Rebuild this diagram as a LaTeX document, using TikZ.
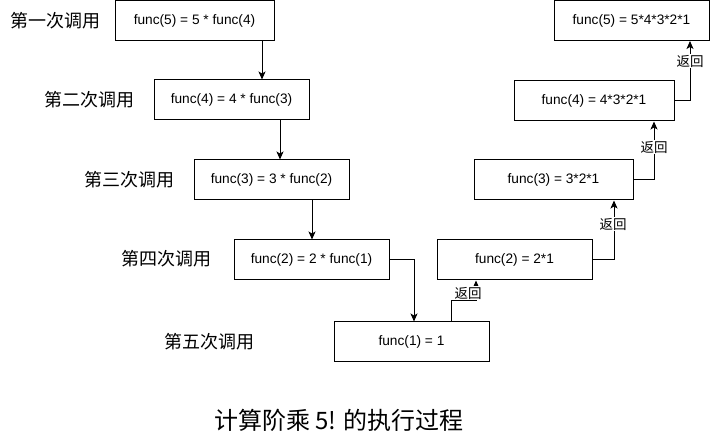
\documentclass[tikz,border=0pt]{standalone}
\usepackage{fontspec}
\setmainfont{Liberation Sans}
\newfontfamily\cjk{Noto Sans CJK SC}
\usetikzlibrary{arrows.meta}
\begin{document}
\begin{tikzpicture}[x=1pt,y=-1pt,
  box/.style={draw=black,line width=1pt,rectangle,minimum height=40pt,inner sep=0pt,
    font=\fontsize{13.7}{16}\selectfont},
  rowlabel/.style={inner sep=0pt,font=\cjk\fontsize{18}{22}\selectfont},
  ret/.style={fill=white,inner sep=0.6pt,font=\cjk\fontsize{13.5}{16}\selectfont},
  arr/.style={line width=1pt,-{Stealth[length=8pt,width=7pt,inset=2pt]}}]
\useasboundingbox (0,0) rectangle (710,435);
% call boxes
\node[box,minimum width=159pt] (A1) at (194.5,20.5) {func(5) = 5 * func(4)};
\node[box,minimum width=155pt] (A2) at (231.5,100) {func(4) = 4 * func(3)};
\node[box,minimum width=155pt] (A3) at (271.5,180) {func(3) = 3 * func(2)};
\node[box,minimum width=155pt] (A4) at (311.5,260) {func(2) = 2 * func(1)};
\node[box,minimum width=155pt] (A5) at (411.5,342) {func(1) = 1};
% return boxes
\node[box,minimum width=155pt] (B2) at (514.5,260) {func(2) = 2*1};
\node[box,minimum width=159pt] (B3) at (553.5,180) {func(3) = 3*2*1};
\node[box,minimum width=160pt] (B4) at (594,101) {func(4) = 4*3*2*1};
\node[box,minimum width=155pt] (B5) at (631.5,20.5) {func(5) = 5*4*3*2*1};
% row labels
\node[rowlabel] (R1) at (55,21) {第一次调用};
\node[rowlabel] (R2) at (89,100) {第二次调用};
\node[rowlabel] (R3) at (129,180) {第三次调用};
\node[rowlabel] (R4) at (166,259) {第四次调用};
\node[rowlabel] (R5) at (209,342) {第五次调用};
% title
\node[inner sep=0pt,font=\cjk\fontsize{24}{28}\selectfont] (T) at (339,420) {计算阶乘 5! 的执行过程};
% helper coordinates
\coordinate (c1) at (262,0);
\coordinate (c2) at (280,0);
\coordinate (c3) at (312,0);
\coordinate (c4) at (414,0);
\coordinate (r1a) at (451,301);
\coordinate (r1b) at (476,301);
\coordinate (r2) at (614,0);
\coordinate (r3) at (654,0);
\coordinate (r4) at (690,0);
% call arrows
\draw[arr] (A1.south -| c1) -- (A2.north -| c1);
\draw[arr] (A2.south -| c2) -- (A3.north -| c2);
\draw[arr] (A3.south -| c3) -- (A4.north -| c3);
\draw[arr] (A4.east) -| (A5.north -| c4);
% return arrows
\draw[arr] (A5.north -| r1a) -- (r1a) -- (r1b) -- (B2.south -| r1b);
\draw[arr] (B2.east) -| (B3.south -| r2);
\draw[arr] (B3.east) -| (B4.south -| r3);
\draw[arr] (B4.east) -| (B5.south -| r4);
% return labels
\node[ret] (L1) at (468,293) {返回};
\node[ret] (L2) at (613,224) {返回};
\node[ret] (L3) at (654,147) {返回};
\node[ret] (L4) at (690,61) {返回};
\end{tikzpicture}
\end{document}
